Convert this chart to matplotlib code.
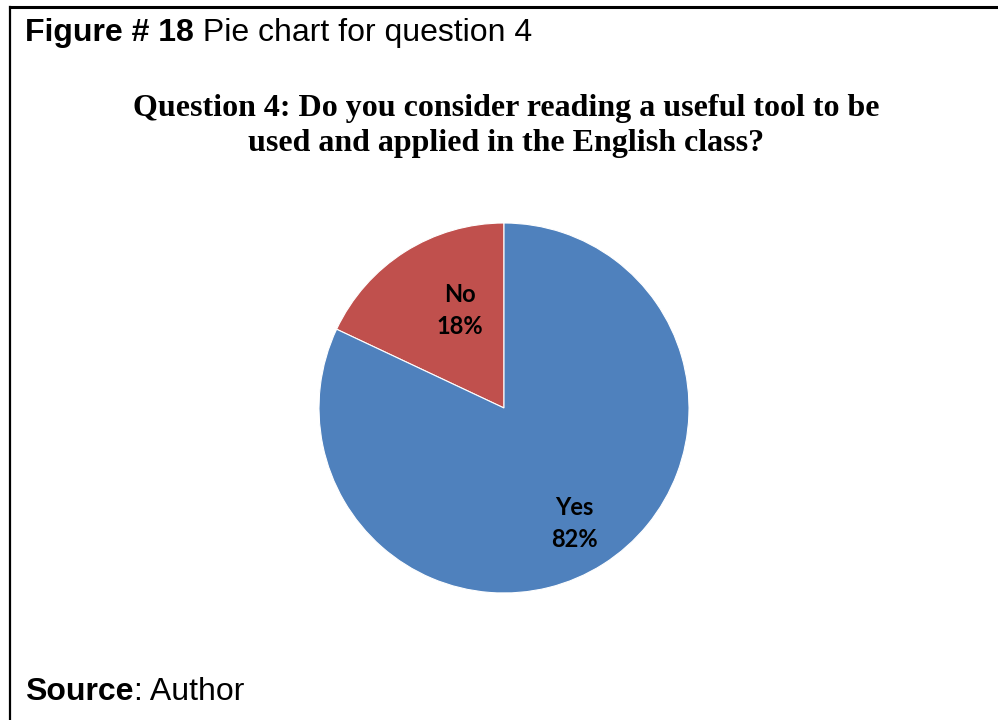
import numpy as np
import matplotlib.pyplot as plt
from matplotlib.lines import Line2D

# Survey answers for question 4
categories = ["No", "Yes"]
shares = [18, 82]
colors = ["#C0504D", "#4F81BD"]

# where each slice label sits: fraction of radius, degrees off the slice middle
label_radius = [0.58, 0.73]
label_turn = [-8, -1]

W, H = 998, 720
fig = plt.figure(figsize=(W / 100, H / 100), dpi=100)

# frame lines (top and left)
fig.add_artist(Line2D([10 / W, 1], [1 - 7 / H, 1 - 7 / H], color="black", lw=2.2,
                      transform=fig.transFigure))
fig.add_artist(Line2D([10 / W, 10 / W], [0, 1 - 7 / H], color="black", lw=1.6,
                      transform=fig.transFigure))

# caption: bold figure number followed by plain text
cap = fig.text(25 / W, 1 - 41 / H, "Figure # 18", fontsize=23, fontweight="bold",
               family="Liberation Sans", va="baseline")
fig.add_artist(plt.Annotation(" Pie chart for question 4", xy=(1, 0),
                              xycoords=cap, va="bottom", fontsize=23,
                              family="Liberation Sans"))

# chart title
fig.text(506 / W, 1 - 126 / H,
         "Question 4: Do you consider reading a useful tool to be\nused and applied in the English class?",
         ha="center", va="center", fontsize=23, fontweight="bold",
         family="Liberation Serif", linespacing=1.27)

# pie
cx, cy, r = 504, 408, 185
ax = fig.add_axes([(cx - r) / W, (H - cy - r) / H, 2 * r / W, 2 * r / H])
wedges, _ = ax.pie(shares, colors=colors, startangle=90, counterclock=True,
                   radius=1, wedgeprops=dict(edgecolor="white", linewidth=0.8))
ax.set_xlim(-1, 1)
ax.set_ylim(-1, 1)
ax.set_aspect("auto")
ax.axis("off")

for w, name, val, lr, turn in zip(wedges, categories, shares, label_radius, label_turn):
    mid = np.deg2rad((w.theta1 + w.theta2) / 2 + turn)
    ax.text(lr * np.cos(mid), lr * np.sin(mid), f"{name}\n{val}%", ha="center",
            va="center", fontsize=17, fontweight="bold", family="Lato",
            linespacing=1.5)

# source line
src = fig.text(25 / W, 1 - 700 / H, "Source", fontsize=23, fontweight="bold",
               family="Liberation Sans", va="baseline")
fig.add_artist(plt.Annotation(": Author", xy=(1, 0), xycoords=src, va="bottom",
                              fontsize=23, family="Liberation Sans"))

fig.savefig("out.png", dpi=100, facecolor="white")
